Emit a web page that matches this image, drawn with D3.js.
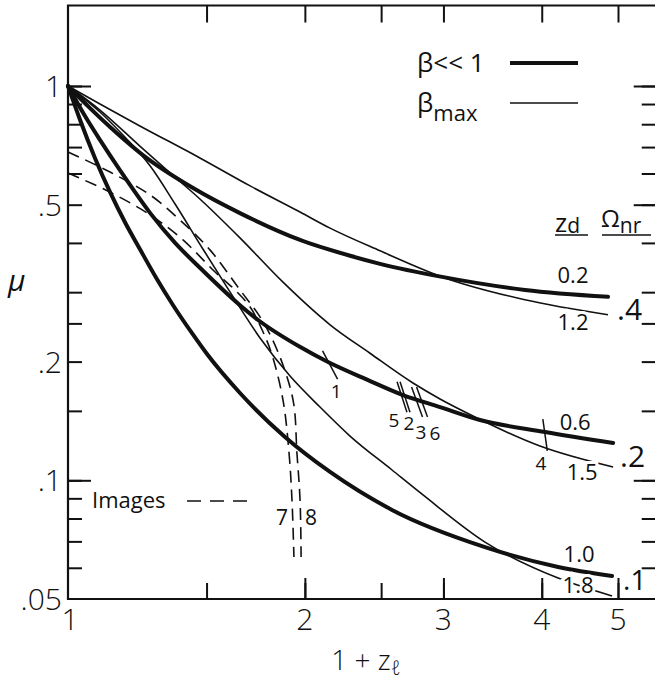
<!DOCTYPE html>
<html>
<head>
<meta charset="utf-8">
<script src="https://cdn.jsdelivr.net/npm/d3@7"></script>
<style>
  body { margin: 0; background: #fff; }
  text { font-family: "Open Sans", "DejaVu Sans", sans-serif; fill: #111; }
</style>
</head>
<body>
<svg id="chart" width="655" height="680"></svg>
<script>
// ---- data: [1 + z_l, mu] ----
// beta << 1 (thick)
var zd02 = [[1,1],[1.0665,0.879],[1.131,0.787],[1.245,0.668],[1.442,0.551],[1.654,0.476],[1.972,0.407],[2.283,0.371],[2.492,0.354],[2.988,0.328],[3.808,0.304],[4.856,0.292]];
var zd06 = [[1,1],[1.051,0.839],[1.098,0.730],[1.164,0.612],[1.272,0.476],[1.368,0.400],[1.471,0.346],[1.654,0.278],[1.744,0.255],[1.971,0.218],[2.140,0.1995],[2.399,0.180],[2.665,0.1645],[2.970,0.1534],[3.339,0.1422],[4.039,0.1326],[4.929,0.1243]];
var zd10 = [[1,1],[1.036,0.820],[1.082,0.657],[1.131,0.538],[1.181,0.452],[1.234,0.386],[1.297,0.324],[1.360,0.278],[1.442,0.234],[1.502,0.209],[1.654,0.1665],[1.887,0.1288],[2.153,0.1050],[2.581,0.0841],[3.388,0.0677],[4.196,0.0603],[4.914,0.0572]];
// beta max (thin)
var zd12 = [[1,1],[1.098,0.900],[1.234,0.792],[1.471,0.657],[1.704,0.558],[1.972,0.479],[2.153,0.436],[2.492,0.382],[2.988,0.328],[3.808,0.287],[4.856,0.263]];
var zd15 = [[1,1],[1.098,0.869],[1.234,0.704],[1.348,0.602],[1.471,0.517],[1.654,0.412],[1.876,0.318],[2.153,0.248],[2.420,0.210],[2.744,0.1765],[2.970,0.1608],[3.271,0.1456],[3.979,0.1222],[4.929,0.1081]];
var zd18 = [[1,1],[1.098,0.859],[1.181,0.742],[1.272,0.627],[1.368,0.502],[1.484,0.386],[1.607,0.300],[1.754,0.2296],[1.915,0.1838],[2.0905,0.1534],[2.2825,0.1295],[2.581,0.1062],[2.826,0.0918],[3.388,0.0697],[4.196,0.0565],[4.914,0.0509]];
// images (dashed)
var image7 = [[1,0.6015],[1.131,0.538],[1.272,0.471],[1.400,0.407],[1.538,0.3375],[1.630,0.304],[1.704,0.2751],[1.765,0.2405],[1.817,0.2078],[1.876,0.1598],[1.909,0.118],[1.926,0.0891],[1.937,0.0639]];
var image8 = [[1,0.6805],[1.131,0.605],[1.272,0.529],[1.388,0.457],[1.515,0.384],[1.654,0.304],[1.754,0.2596],[1.844,0.2141],[1.932,0.1598],[1.954,0.1173],[1.972,0.0891],[1.978,0.0639]];

// curve marks: id, 1+z, mu
var markIds = ["1", "5", "2", "3", "6", "4"];
var markX = [2.153, 2.6575, 2.681, 2.777, 2.818, 4.039];
var markY = [0.196, 0.1627, 0.1627, 0.158, 0.158, 0.1303];

// end labels
var zdThick = ["0.2", "0.6", "1.0"];
var zdThin = ["1.2", "1.5", "1.8"];
var omegaNr = [".4", ".2", ".1"];

// axes
var xTicks = [1.5, 2, 2.5, 3, 4, 5];
var xLongTicks = [2, 3, 4, 5];
var xLabelVals = [1, 2, 3, 4, 5];
var yTicks = [1, .9, .8, .7, .6, .5, .4, .3, .25, .2, .15, .1, .09, .08, .07, .06];
var yLongTicks = [1, .1];
var yLabelVals = [1, .5, .2, .1, .05];
var yLabelText = ["1", ".5", ".2", ".1", ".05"];

var svg = d3.select("#chart");
svg.append("rect").attr("width", 655).attr("height", 680).attr("fill", "#fff");

var x = d3.scaleLog().domain([1, 5]).range([68, 618]);
var y = d3.scaleLog().domain([0.05, 1]).range([599, 86]);
var xEnd = 5.6, yEnd = 1.6;

// frame
svg.append("path")
  .attr("d", "M" + x(xEnd) + "," + y(yEnd) + "H" + x(1) + "V" + y(0.05) + "H" + x(xEnd))
  .attr("fill", "none").attr("stroke", "#111").attr("stroke-width", 2.2);

function tickSet(axis, vals, size, tx, ty) {
  svg.append("g")
    .attr("transform", "translate(" + tx + "," + ty + ")")
    .call(axis.tickValues(vals).tickSize(size).tickFormat(""))
    .call(function (g) { g.select(".domain").remove(); })
    .selectAll("line").attr("stroke", "#111").attr("stroke-width", 2);
}
tickSet(d3.axisBottom(x), xTicks, -16, 0, y(0.05));
tickSet(d3.axisBottom(x), xLongTicks, -21, 0, y(0.05));
tickSet(d3.axisTop(x), xTicks, -17, 0, y(yEnd));
tickSet(d3.axisRight(y), yTicks, 14, x(1), 0);
tickSet(d3.axisRight(y), yLongTicks, 23, x(1), 0);
tickSet(d3.axisLeft(y), yTicks, 15, x(xEnd), 0);
tickSet(d3.axisLeft(y), [1, .5, .1], 23, x(xEnd), 0);

// tick labels
svg.selectAll(".xlab").data(xLabelVals).enter().append("text")
  .attr("x", function (d) { return x(d) + (d === 1 ? 2 : 0); })
  .attr("y", 630)
  .attr("text-anchor", "middle")
  .style("font-size", "30px").style("font-weight", 300)
  .text(function (d) { return d; });

svg.selectAll(".ylab").data(yLabelVals).enter().append("text")
  .attr("x", 62)
  .attr("y", function (d) { return y(d) + 11; })
  .attr("text-anchor", "end")
  .style("font-size", "30px").style("font-weight", 300)
  .text(function (d, i) { return yLabelText[i]; });

// axis titles
svg.append("text").attr("x", 8).attr("y", 291)
  .style("font-size", "30px").style("font-style", "italic").text("μ");
var xt = svg.append("text").attr("x", 366).attr("y", 670).attr("text-anchor", "middle")
  .style("font-size", "28px").style("font-weight", 300);
xt.append("tspan").text("1 + z");
xt.append("tspan").attr("dy", 5).style("font-size", "20px").text("ℓ");

// curves
var line = d3.line()
  .x(function (d) { return x(d[0]); })
  .y(function (d) { return y(d[1]); })
  .curve(d3.curveMonotoneX);
var smooth = d3.line()
  .x(function (d) { return x(d[0]); })
  .y(function (d) { return y(d[1]); })
  .curve(d3.curveCatmullRom.alpha(0.5));

[zd12, zd15, zd18].forEach(function (c) {
  svg.append("path").attr("d", line(c)).attr("fill", "none")
    .attr("stroke", "#111").attr("stroke-width", 1.6);
});
[zd02, zd06, zd10].forEach(function (c) {
  svg.append("path").attr("d", line(c)).attr("fill", "none")
    .attr("stroke", "#111").attr("stroke-width", 4).attr("stroke-linecap", "round");
});
[image7, image8].forEach(function (c) {
  svg.append("path").attr("d", smooth(c)).attr("fill", "none")
    .attr("stroke", "#111").attr("stroke-width", 1.6).attr("stroke-dasharray", "12,7");
});

// marks across curves
var markAngle = [62, 72, 72, 70, 70, 82];
var markDx = [6, -8, 4, 4, 13, -4];
var markDy = [33, 30, 33, 37, 38, 35];
markIds.forEach(function (id, i) {
  var cx = x(markX[i]), cy = y(markY[i]);
  var a = markAngle[i] * Math.PI / 180, h = 16;
  svg.append("line")
    .attr("x1", cx - h * Math.cos(a)).attr("y1", cy - h * Math.sin(a))
    .attr("x2", cx + h * Math.cos(a)).attr("y2", cy + h * Math.sin(a))
    .attr("stroke", "#111").attr("stroke-width", 1.5);
  svg.append("text").attr("x", cx + markDx[i]).attr("y", cy + markDy[i])
    .attr("text-anchor", "middle").style("font-size", "19px").text(id);
});

// image labels 7 and 8
svg.append("text").attr("x", x(image7[image7.length - 1][0]) - 12).attr("y", y(0.0735) - 8)
  .attr("text-anchor", "middle").style("font-size", "21px").text("7");
svg.append("text").attr("x", x(image8[image8.length - 1][0]) + 10).attr("y", y(0.0735) - 8)
  .attr("text-anchor", "middle").style("font-size", "21px").text("8");

// end labels
var thick = [zd02, zd06, zd10], thin = [zd12, zd15, zd18];
var thickOff = [[-35, -14], [-38, -13], [-33, -14]];
var thinOff = [[-35, 15], [-31, 13], [-34, -3]];
var omOff = [[9, 23], [7, 24], [11, 14]];
var omSize = ["30px", "30px", "28px"];
thick.forEach(function (c, i) {
  var e = c[c.length - 1];
  svg.append("text").attr("x", x(e[0]) + thickOff[i][0]).attr("y", y(e[1]) + thickOff[i][1])
    .attr("text-anchor", "middle").style("font-size", "22px").text(zdThick[i]);
  svg.append("text").attr("x", x(e[0]) + omOff[i][0]).attr("y", y(e[1]) + omOff[i][1])
    .style("font-size", omSize[i]).text(omegaNr[i]);
});
thin.forEach(function (c, i) {
  var e = c[c.length - 1];
  svg.append("text").attr("x", x(e[0]) + thinOff[i][0]).attr("y", y(e[1]) + thinOff[i][1])
    .attr("text-anchor", "middle").style("font-size", "22px")
    .style("stroke", "#fff").style("stroke-width", 6).style("paint-order", "stroke")
    .text(zdThin[i]);
});

// column headers
var hz = svg.append("text").attr("x", 555).attr("y", 232).style("font-size", "26px");
hz.append("tspan").text("z");
hz.append("tspan").attr("dy", 1).style("font-size", "21px").text("d");
var ho = svg.append("text").attr("x", 601).attr("y", 227).style("font-size", "24px");
ho.append("tspan").text("Ω");
ho.append("tspan").attr("dy", 6).style("font-size", "21px").text("nr");
[[555, 588], [602, 651]].forEach(function (u) {
  svg.append("line").attr("x1", u[0]).attr("x2", u[1]).attr("y1", 235).attr("y2", 235)
    .attr("stroke", "#111").attr("stroke-width", 1.6);
});

// legend
var lg = svg.append("g");
lg.append("text").attr("x", 417).attr("y", 72).style("font-size", "26px").text("β<< 1");
lg.append("line").attr("x1", 510).attr("x2", 578).attr("y1", 63).attr("y2", 63)
  .attr("stroke", "#111").attr("stroke-width", 4);
var bm = lg.append("text").attr("x", 417).attr("y", 112).style("font-size", "26px");
bm.append("tspan").text("β");
bm.append("tspan").attr("dy", 9).style("font-size", "22px").text("max");
lg.append("line").attr("x1", 510).attr("x2", 578).attr("y1", 103).attr("y2", 103)
  .attr("stroke", "#111").attr("stroke-width", 1.6);

svg.append("text").attr("x", 92).attr("y", 508).style("font-size", "22px").text("Images");
svg.append("line").attr("x1", 187).attr("x2", 250).attr("y1", 501).attr("y2", 501)
  .attr("stroke", "#111").attr("stroke-width", 1.6).attr("stroke-dasharray", "14,9");
</script>
</body>
</html>
